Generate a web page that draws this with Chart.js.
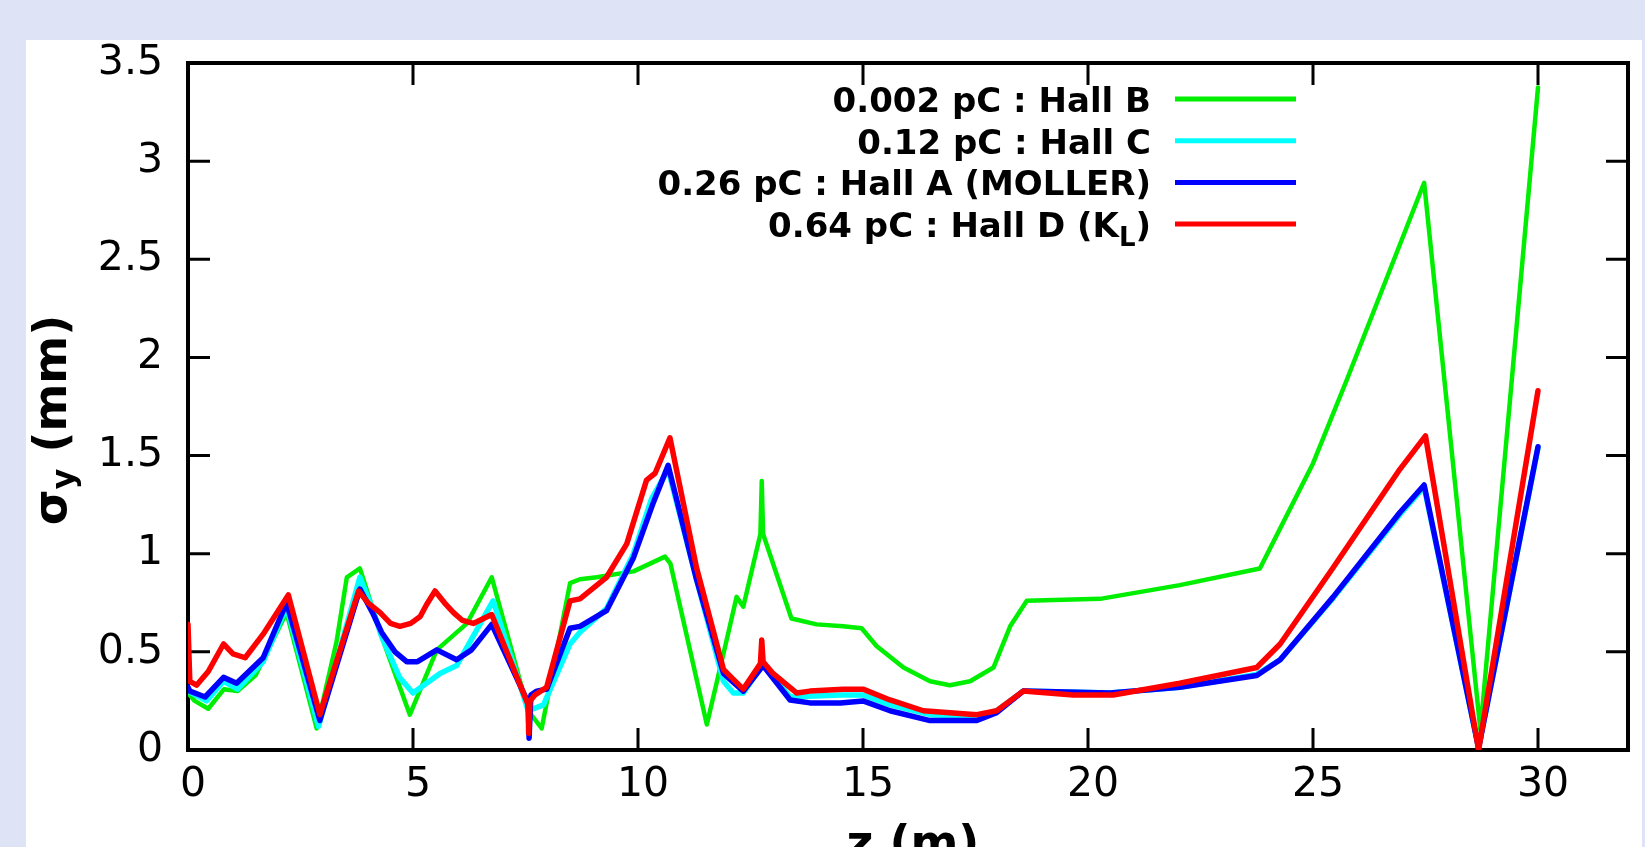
<!DOCTYPE html>
<html>
<head>
<meta charset="utf-8">
<title>sigma_y vs z</title>
<script src="https://cdn.jsdelivr.net/npm/chart.js@4/dist/chart.umd.min.js"></script>
<style>
  html, body { margin: 0; padding: 0; overflow: hidden; background: #dee4f5; }
  canvas { display: block; }
</style>
</head>
<body>
<canvas id="sigmaChart" width="1645" height="847"></canvas>
<script>
// beam size along the line for four bunch charges
const zHallB = [0, 0.15, 0.45, 0.8, 1.1, 1.5, 2.19, 2.86, 3.3, 3.53, 3.82, 4.3, 4.93, 5.53, 6.2, 6.75,
  7.56, 7.86, 8.49, 8.71, 9.08, 9.9, 10.6, 10.72, 11.53, 12.0, 12.19, 12.34, 12.72, 12.75, 12.78, 13.41,
  13.97, 14.56, 14.97, 15.3, 15.9, 16.49, 16.93, 17.38, 17.9, 18.27, 18.64, 20.27, 22.04, 23.82, 25.0,
  25.75, 27.47, 28.72, 30.0];
const sigmaHallB = [0.29, 0.25, 0.21, 0.31, 0.30, 0.38, 0.70, 0.11, 0.55, 0.88, 0.925, 0.58, 0.18, 0.51, 0.645, 0.88,
  0.20, 0.11, 0.85, 0.87, 0.88, 0.91, 0.985, 0.95, 0.13, 0.59, 0.78, 0.73, 1.10, 1.37, 1.10, 0.67,
  0.64, 0.63, 0.62, 0.53, 0.42, 0.35, 0.33, 0.35, 0.42, 0.63, 0.76, 0.77, 0.84, 0.925, 1.46,
  1.885, 2.89, 0.10, 3.375];

const zHallC = [0, 0.41, 0.79, 1.1, 1.67, 2.19, 2.9, 3.82, 4.1, 4.3, 4.7, 5.0, 5.6, 5.97, 6.78, 7.56, 7.9, 8.49,
  8.71, 9.3, 9.9, 10.3, 10.67, 11.3, 11.9, 12.12, 12.34, 12.78, 13.38, 14.5, 15.0, 15.6, 16.49, 17.53,
  17.97, 18.56, 20.49, 22.04, 23.75, 24.27, 25.45, 26.93, 27.47, 28.68, 30.0];
const sigmaHallC = [0.30, 0.25, 0.35, 0.31, 0.45, 0.73, 0.12, 0.88, 0.72, 0.58, 0.37, 0.29, 0.39, 0.43, 0.76, 0.20, 0.23, 0.54,
  0.60, 0.72, 1.00, 1.28, 1.43, 0.87, 0.35, 0.29, 0.29, 0.44, 0.27, 0.28, 0.28, 0.23, 0.18, 0.17,
  0.20, 0.30, 0.29, 0.32, 0.385, 0.46, 0.775, 1.20, 1.34, 0.01, 1.54];

const zHallA = [0, 0.04, 0.38, 0.79, 1.08, 1.67, 2.19, 2.93, 3.82, 4.1, 4.3, 4.6, 4.86, 5.1, 5.53, 5.97, 6.3, 6.75,
  7.56, 7.58, 7.62, 7.75, 7.97, 8.49, 8.71, 9.3, 9.9, 10.34, 10.67, 11.3, 11.9, 12.34, 12.78, 13.38,
  13.82, 14.5, 15.0, 15.6, 16.49, 17.53, 17.97, 18.56, 20.49, 22.04, 23.75, 24.27, 25.45, 26.93, 27.47,
  28.68, 30.0];
const sigmaHallA = [0.32, 0.30, 0.27, 0.37, 0.34, 0.47, 0.75, 0.15, 0.82, 0.70, 0.60, 0.50, 0.45, 0.45, 0.51, 0.46, 0.51, 0.64,
  0.24, 0.06, 0.28, 0.30, 0.31, 0.62, 0.63, 0.71, 0.98, 1.26, 1.45, 0.87, 0.39, 0.30, 0.43, 0.255,
  0.24, 0.24, 0.25, 0.20, 0.15, 0.15, 0.19, 0.30, 0.29, 0.32, 0.38, 0.46, 0.78, 1.21, 1.35,
  0.01, 1.545];

const zHallD = [0, 0.04, 0.19, 0.45, 0.79, 1.0, 1.27, 1.67, 2.23, 2.93, 3.79, 4.0, 4.27, 4.5, 4.71, 4.95, 5.16, 5.3, 5.49,
  5.7, 5.9, 6.1, 6.34, 6.75, 7.56, 7.57, 7.6, 7.71, 7.97, 8.49, 8.71, 9.3, 9.75, 10.19, 10.38, 10.71, 11.3, 11.9, 12.12,
  12.34, 12.72, 12.75, 12.78, 13.0, 13.53, 13.82, 14.56, 15.0, 15.6, 16.34, 16.93, 17.53, 17.97, 18.56,
  19.67, 20.56, 22.04, 23.75, 24.27, 25.45, 26.93, 27.5, 28.68, 30.0];
const sigmaHallD = [0.64, 0.35, 0.33, 0.40, 0.54, 0.49, 0.47, 0.59, 0.79, 0.18, 0.81, 0.75, 0.70, 0.645, 0.63, 0.645, 0.68, 0.74, 0.81,
  0.75, 0.70, 0.66, 0.645, 0.69, 0.23, 0.085, 0.25, 0.28, 0.32, 0.76, 0.77, 0.88, 1.05, 1.375, 1.41, 1.59, 0.93, 0.41, 0.36,
  0.31, 0.44, 0.56, 0.45, 0.39, 0.29, 0.30, 0.31, 0.31, 0.255, 0.20, 0.19, 0.18, 0.20, 0.30,
  0.28, 0.28, 0.34, 0.42, 0.54, 0.93, 1.43, 1.60, 0.0, 1.83];

const seriesLabels = ['0.002 pC : Hall B', '0.12 pC : Hall C', '0.26 pC : Hall A (MOLLER)', '0.64 pC : Hall D (K_L)'];
const seriesColors = ['#00ee00', '#00ffff', '#0000ff', '#ff0000'];
const xTickValues = [0, 5, 10, 15, 20, 25, 30];
const yTickValues = [0, 0.5, 1, 1.5, 2, 2.5, 3, 3.5];
const xTitle = 'z (m)';
const yTitle = 'σ_y (mm)';

const toPoints = (zs, vs) => zs.map((z, i) => ({ x: z, y: vs[i] }));

// split "a_b" into normal text and one-character subscripts
function richParts(str) {
    const out = [];
    let buf = '';
    for (let i = 0; i < str.length; i++) {
        if (str[i] === '_' && i + 1 < str.length) {
            if (buf) out.push({ t: buf, sub: false });
            buf = '';
            out.push({ t: str[i + 1], sub: true });
            i++;
        } else {
            buf += str[i];
        }
    }
    if (buf) out.push({ t: buf, sub: false });
    return out;
}

function drawRich(ctx, str, x, y, size, subSize, subShift, align) {
    const parts = richParts(str);
    const fontFor = p => `bold ${p.sub ? subSize : size}px "DejaVu Sans"`;
    let total = 0;
    parts.forEach(p => { ctx.font = fontFor(p); p.w = ctx.measureText(p.t).width; total += p.w; });
    let cx = align === 'right' ? x - total : align === 'center' ? x - total / 2 : x;
    ctx.textAlign = 'left';
    ctx.textBaseline = 'alphabetic';
    parts.forEach(p => {
        ctx.font = fontFor(p);
        ctx.fillText(p.t, cx, y + (p.sub ? subShift : 0));
        cx += p.w;
    });
}

const framePlugin = {
    id: 'frame',
    beforeDraw(chart) {
        const ctx = chart.ctx;
        ctx.save();
        ctx.fillStyle = '#dee4f5';
        ctx.fillRect(0, 0, chart.width, chart.height);
        ctx.fillStyle = '#ffffff';
        ctx.fillRect(26, 40, 1616, chart.height - 40);
        ctx.restore();
    },
    beforeDatasetsDraw(chart) {
        const { ctx, chartArea: a, scales } = chart;
        ctx.save();
        ctx.strokeStyle = '#000';
        ctx.lineWidth = 3;
        const tl = 22;
        ctx.beginPath();
        xTickValues.forEach(v => {
            const px = scales.x.getPixelForValue(v);
            ctx.moveTo(px, a.bottom); ctx.lineTo(px, a.bottom - tl);
            ctx.moveTo(px, a.top); ctx.lineTo(px, a.top + tl);
        });
        yTickValues.forEach(v => {
            const py = scales.y.getPixelForValue(v);
            ctx.moveTo(a.left, py); ctx.lineTo(a.left + tl, py);
            ctx.moveTo(a.right, py); ctx.lineTo(a.right - tl, py);
        });
        ctx.stroke();
        ctx.lineWidth = 4;
        ctx.strokeRect(a.left, a.top, a.right - a.left, a.bottom - a.top);
        ctx.restore();
    },
    afterDatasetsDraw(chart) {
        const { ctx, chartArea: a } = chart;
        ctx.save();
        ctx.fillStyle = '#000';

        // key, top right inside the frame
        const textRight = 1151, lineL = 1175, lineR = 1296;
        chart.data.datasets.forEach((ds, i) => {
            const rowY = 99 + i * 41.7;
            ctx.fillStyle = '#000';
            drawRich(ctx, ds.label, textRight, rowY + 13, 34, 26, 9, 'right');
            ctx.strokeStyle = ds.borderColor;
            ctx.lineWidth = 5;
            ctx.beginPath();
            ctx.moveTo(lineL, rowY);
            ctx.lineTo(lineR, rowY);
            ctx.stroke();
        });

        // axis titles
        ctx.fillStyle = '#000';
        drawRich(ctx, xTitle, (a.left + a.right) / 2 + 5, 858, 46, 32, 8, 'center');
        ctx.translate(66, 420);
        ctx.rotate(-Math.PI / 2);
        drawRich(ctx, yTitle, 0, 0, 46, 32, 8, 'center');
        ctx.restore();
    }
};

const series = [
    { z: zHallB, s: sigmaHallB, width: 4.5, order: 3 },
    { z: zHallC, s: sigmaHallC, width: 5.5, order: 2 },
    { z: zHallA, s: sigmaHallA, width: 5.5, order: 1 },
    { z: zHallD, s: sigmaHallD, width: 5.5, order: 0 }
];

new Chart(document.getElementById('sigmaChart'), {
    type: 'line',
    data: {
        datasets: series.map((d, i) => ({
            label: seriesLabels[i],
            data: toPoints(d.z, d.s),
            borderColor: seriesColors[i],
            backgroundColor: seriesColors[i],
            borderWidth: d.width,
            borderJoinStyle: 'round',
            borderCapStyle: 'round',
            pointRadius: 0,
            tension: 0,
            fill: false,
            order: d.order
        }))
    },
    options: {
        responsive: false,
        animation: false,
        devicePixelRatio: 1,
        layout: { padding: { top: 63, right: 17, left: 0, bottom: 0 } },
        plugins: { legend: { display: false }, tooltip: { enabled: false } },
        scales: {
            x: {
                type: 'linear',
                min: 0,
                max: 32,
                afterBuildTicks: s => { s.ticks = xTickValues.map(v => ({ value: v })); },
                afterFit: s => { s.height = 97; },
                grid: { display: false, drawTicks: false },
                border: { display: false },
                ticks: {
                    padding: 11,
                    labelOffset: 5,
                    maxRotation: 0,
                    color: '#000',
                    callback: v => String(v),
                    font: { family: 'DejaVu Sans', size: 41, lineHeight: 1.2 }
                }
            },
            y: {
                type: 'linear',
                min: 0,
                max: 3.5,
                afterBuildTicks: s => { s.ticks = yTickValues.map(v => ({ value: v })); },
                afterFit: s => { s.width = 188; },
                grid: { display: false, drawTicks: false },
                border: { display: false },
                ticks: {
                    padding: 25,
                    color: '#000',
                    callback: v => String(v),
                    font: { family: 'DejaVu Sans', size: 41, lineHeight: 1.2 }
                }
            }
        }
    },
    plugins: [framePlugin]
});
</script>
</body>
</html>
